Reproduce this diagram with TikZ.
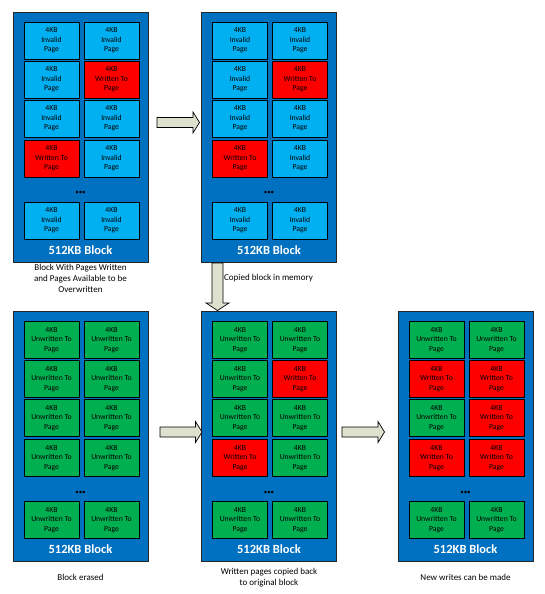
\documentclass[tikz,border=0pt]{standalone}
\usepackage{fontspec}
\setmainfont{Carlito}
\definecolor{blockblue}{RGB}{0,112,192}
\definecolor{invblue}{RGB}{0,176,240}
\definecolor{wred}{RGB}{255,0,0}
\definecolor{ugreen}{RGB}{0,176,80}
\definecolor{arrowfill}{RGB}{222,225,206}
\def\txtpgI{4KB\\Invalid\\Page}
\def\txtpgW{4KB\\Written To\\Page}
\def\txtpgU{4KB\\Unwritten To\\Page}
\newcommand\drawblock[4]{%
  \node[blk] (#1) at (#2+67.5,#3+125) {};
  \foreach \t [count=\i from 0] in {#4} {
    \pgfmathtruncatemacro\rr{int(\i/2)}
    \pgfmathtruncatemacro\cc{mod(\i,2)}
    \pgfmathsetmacro\yy{{28.5,67.5,106.5,146.5,208.5}[\rr]}
    \pgfmathsetmacro\xx{\cc==0 ? 38.5 : 98.5}
    \node[\t] (#1-\rr-\cc) at (#2+\xx,#3+\yy) {\csname txt\t\endcsname};
  }
  \node[dotstyle] (#1-dots) at (#2+67.5,#3+181) {\textbullet\textbullet\textbullet};
  \node[blklabel] (#1-label) at (#2+67.5,#3+238) {512KB Block};
}
\newcommand\rarrow[4]{% name, x1, x2, yc
  \draw[fatarrow] (#2,#4-5) -- (#3-6.5,#4-5) -- (#3-6.5,#4-10.5) -- (#3,#4) -- (#3-6.5,#4+10.5) -- (#3-6.5,#4+5) -- (#2,#4+5) -- cycle;
}
\begin{document}
\begin{tikzpicture}[x=1pt,y=-1pt,
  blk/.style={draw=black!85, line width=0.8pt, fill=blockblue, minimum width=135pt, minimum height=250pt, inner sep=0pt},
  pg/.style={draw=black, line width=0.8pt, minimum width=55pt, minimum height=37pt, inner sep=0pt, align=center, font=\fontsize{7.7}{9.5}\selectfont},
  pgI/.style={pg, fill=invblue},
  pgW/.style={pg, fill=wred},
  pgU/.style={pg, fill=ugreen},
  dotstyle/.style={inner sep=0pt, font=\fontsize{7}{8}\selectfont},
  blklabel/.style={inner sep=0pt, text=white, font=\bfseries\fontsize{12.5}{14}\selectfont},
  caption/.style={inner sep=0pt, align=center, font=\fontsize{9}{11}\selectfont},
  fatarrow/.style={draw=black, line width=0.7pt, fill=arrowfill, line join=miter}
]
\useasboundingbox[fill=white] (0,0) rectangle (545,594);
\drawblock{b1}{13}{12}{pgI,pgI,pgI,pgW,pgI,pgI,pgW,pgI,pgI,pgI}
\drawblock{b2}{201.5}{12}{pgI,pgI,pgI,pgW,pgI,pgI,pgW,pgI,pgI,pgI}
\drawblock{b3}{13}{311.5}{pgU,pgU,pgU,pgU,pgU,pgU,pgU,pgU,pgU,pgU}
\drawblock{b4}{201.5}{311.5}{pgU,pgU,pgU,pgW,pgU,pgU,pgW,pgU,pgU,pgU}
\drawblock{b5}{398}{311.5}{pgU,pgU,pgW,pgW,pgU,pgW,pgW,pgW,pgU,pgU}
% captions
\node[caption] (c1) at (80.5,278) {Block With Pages Written\\and Pages Available to be\\Overwritten};
\node[caption, anchor=west] (c2) at (224,278) {Copied block in memory};
\node[caption] (c3) at (80.5,577) {Block erased};
\node[caption] (c4) at (269,578) {Written pages copied back\\to original block};
\node[caption] (c5) at (465.5,577) {New writes can be made};
% arrows
\rarrow{a1}{157}{199.5}{122.5}
\rarrow{a2}{160}{202}{432}
\rarrow{a3}{342}{384.5}{432}
\draw[fatarrow] (212,263) -- (223,263) -- (223,303) -- (229,303) -- (217.5,310.5) -- (206,303) -- (212,303) -- cycle;
\end{tikzpicture}
\end{document}
